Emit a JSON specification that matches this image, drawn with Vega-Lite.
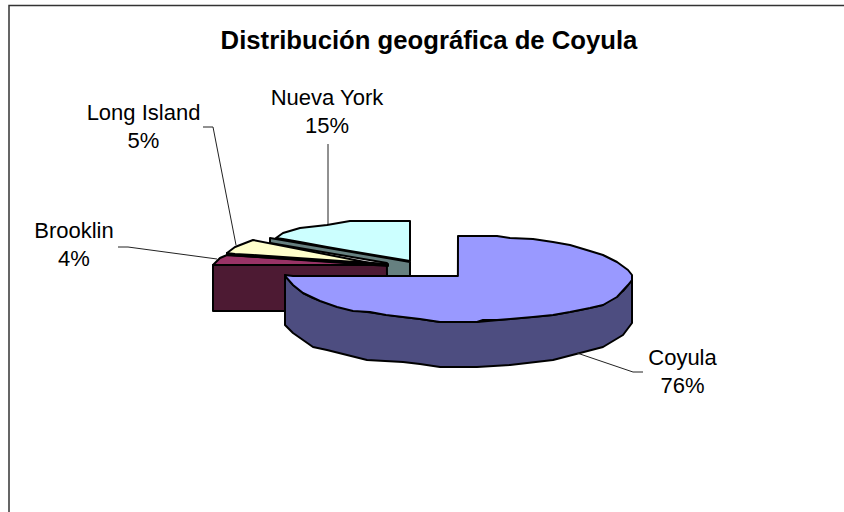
{
"$schema":"https://vega.github.io/schema/vega-lite/v6.json",
"width":844,"height":512,"padding":0,
"autosize":{"type":"none"},
"background":"#ffffff",
"view":{"stroke":null},
"title":{"text":"Distribución geográfica de Coyula","anchor":"middle","frame":"group","offset":-75,"font":"Liberation Sans","fontWeight":"bold","fontSize":25.7,"color":"#000000","baseline":"alphabetic","dx":7},
"datasets":{
"shapes":[
{"part":"Brooklin lado","x":213,"y":265,"y2":311},{"part":"Brooklin lado","x":387,"y":265,"y2":311},
{"part":"Brooklin","x":213,"y":265,"y2":265},{"part":"Brooklin","x":220,"y":258,"y2":265},{"part":"Brooklin","x":227,"y":255,"y2":265},{"part":"Brooklin","x":387,"y":265,"y2":265},
{"part":"Nueva York lado","x":270,"y":238,"y2":243},{"part":"Nueva York lado","x":386.9,"y":258,"y2":263},{"part":"Nueva York lado","x":387,"y":258,"y2":276},{"part":"Nueva York lado","x":410,"y":262,"y2":276},
{"part":"Nueva York","x":276,"y":238,"y2":238},{"part":"Nueva York","x":283,"y":233,"y2":239},{"part":"Nueva York","x":300,"y":228,"y2":242},{"part":"Nueva York","x":327,"y":225,"y2":247},{"part":"Nueva York","x":350,"y":221,"y2":251},{"part":"Nueva York","x":410,"y":221,"y2":261},
{"part":"Long Island lado","x":227,"y":253,"y2":255},{"part":"Long Island lado","x":388,"y":264,"y2":266},
{"part":"Long Island","x":227,"y":253,"y2":253},{"part":"Long Island","x":235,"y":247,"y2":254},{"part":"Long Island","x":253,"y":240,"y2":255},{"part":"Long Island","x":370,"y":263,"y2":263},
{"part":"Coyula lado","x":285,"y":275,"y2":325},{"part":"Coyula lado","x":293,"y":285,"y2":333},{"part":"Coyula lado","x":303,"y":293,"y2":340},{"part":"Coyula lado","x":313,"y":298,"y2":347},{"part":"Coyula lado","x":327,"y":303,"y2":350},{"part":"Coyula lado","x":347,"y":309,"y2":355},{"part":"Coyula lado","x":367,"y":312,"y2":360},{"part":"Coyula lado","x":403,"y":317,"y2":362},{"part":"Coyula lado","x":420,"y":319,"y2":364},{"part":"Coyula lado","x":440,"y":322,"y2":367},{"part":"Coyula lado","x":477,"y":322,"y2":367},{"part":"Coyula lado","x":510,"y":319,"y2":365},{"part":"Coyula lado","x":553,"y":315,"y2":360},{"part":"Coyula lado","x":580,"y":310,"y2":353},{"part":"Coyula lado","x":603,"y":305,"y2":347},{"part":"Coyula lado","x":623,"y":291,"y2":335},{"part":"Coyula lado","x":632,"y":280,"y2":323},
{"part":"Coyula","x":285,"y":275,"y2":276},{"part":"Coyula","x":293,"y":276,"y2":285},{"part":"Coyula","x":303,"y":276,"y2":293},{"part":"Coyula","x":320,"y":276,"y2":301},{"part":"Coyula","x":337,"y":276,"y2":307},{"part":"Coyula","x":353,"y":276,"y2":311},{"part":"Coyula","x":370,"y":276,"y2":312},{"part":"Coyula","x":386,"y":276,"y2":315},{"part":"Coyula","x":403,"y":276,"y2":317},{"part":"Coyula","x":420,"y":276,"y2":319},{"part":"Coyula","x":440,"y":276,"y2":322},{"part":"Coyula","x":457.9,"y":276,"y2":322},{"part":"Coyula","x":458,"y":236,"y2":322},{"part":"Coyula","x":477,"y":236,"y2":322},{"part":"Coyula","x":483,"y":236,"y2":320},{"part":"Coyula","x":497,"y":236,"y2":320},{"part":"Coyula","x":510,"y":238,"y2":319},{"part":"Coyula","x":533,"y":239,"y2":317},{"part":"Coyula","x":553,"y":242,"y2":315},{"part":"Coyula","x":570,"y":245,"y2":312},{"part":"Coyula","x":590,"y":251,"y2":308},{"part":"Coyula","x":603,"y":255,"y2":305},{"part":"Coyula","x":617,"y":262,"y2":297},{"part":"Coyula","x":628,"y":270,"y2":285},{"part":"Coyula","x":632,"y":275,"y2":280}
],
"leaders":[
{"name":"Coyula","i":1,"x":577,"y":353},{"name":"Coyula","i":2,"x":633,"y":372},{"name":"Coyula","i":3,"x":643,"y":372},
{"name":"Long Island","i":1,"x":203,"y":127},{"name":"Long Island","i":2,"x":213,"y":127},{"name":"Long Island","i":3,"x":236,"y":245},
{"name":"Nueva York","i":1,"x":328,"y":144},{"name":"Nueva York","i":2,"x":328,"y":224},
{"name":"Brooklin","i":1,"x":118,"y":247},{"name":"Brooklin","i":2,"x":128,"y":247},{"name":"Brooklin","i":3,"x":217,"y":259}
],
"frame":[{"i":1,"x":844,"y":5.5},{"i":2,"x":9,"y":5.5},{"i":3,"x":9,"y":512}],
"labels":[
{"name":"Coyula","share":76,"label":"Coyula\n76%","x":682.5,"y":365},
{"name":"Nueva York","share":15,"label":"Nueva York\n15%","x":327,"y":105},
{"name":"Long Island","share":5,"label":"Long Island\n5%","x":143.5,"y":120},
{"name":"Brooklin","share":4,"label":"Brooklin\n4%","x":74,"y":238}
]
},
"encoding":{
"x":{"field":"x","type":"quantitative","scale":{"domain":[0,844],"nice":false,"zero":false},"axis":null},
"y":{"field":"y","type":"quantitative","scale":{"domain":[0,512],"nice":false,"zero":false,"reverse":true},"axis":null}
},
"layer":[
{"data":{"name":"frame"},"mark":{"type":"line","stroke":"#333333","strokeWidth":1.5,"clip":true},"encoding":{"order":{"field":"i"}}},
{"data":{"name":"shapes"},"mark":{"type":"area","stroke":"#000000","strokeWidth":2,"strokeJoin":"round"},
"encoding":{"y2":{"field":"y2"},
"color":{"field":"part","type":"nominal","legend":null,"sort":null,"scale":{"domain":["Brooklin lado","Brooklin","Nueva York lado","Nueva York","Long Island lado","Long Island","Coyula lado","Coyula"],"range":["#4d1a33","#993366","#668080","#ccffff","#808066","#ffffcc","#4d4d80","#9999ff"]}}}},
{"data":{"name":"leaders"},"mark":{"type":"line","stroke":"#222222","strokeWidth":1},"encoding":{"detail":{"field":"name"},"order":{"field":"i"}}},
{"data":{"name":"labels"},"mark":{"type":"text","font":"Liberation Sans","fontSize":22,"lineBreak":"\n","lineHeight":28,"align":"center","baseline":"alphabetic","color":"#000000"},"encoding":{"text":{"field":"label"}}}
]
}
